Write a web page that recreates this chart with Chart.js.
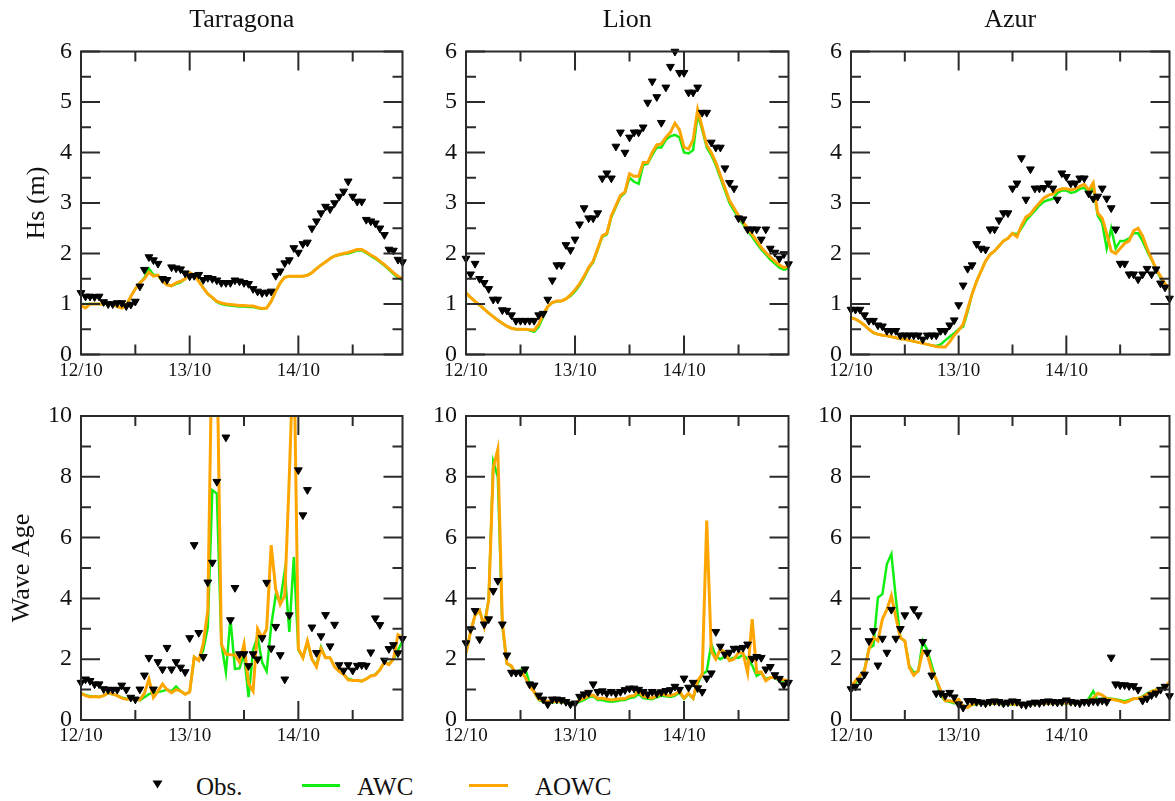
<!DOCTYPE html>
<html>
<head>
<meta charset="utf-8">
<script src="https://cdn.jsdelivr.net/npm/chart.js@4.4.1/dist/chart.umd.min.js"></script>
<style>
  body { margin: 0; background: #fff; }
  #page { position: relative; width: 1175px; height: 801px; overflow: hidden; background: #fff;
          font-family: "Liberation Serif", "DejaVu Serif", serif; color: #111; }
  #page canvas { position: absolute; }
  .lg { position: absolute; font-size: 25px; line-height: 25px; top: 774px; white-space: nowrap; }
  .lgline { position: absolute; height: 3px; top: 784px; }
</style>
</head>
<body>
<div id="page">
  <svg style="position:absolute;left:152px;top:780px" width="11" height="9">
    <polygon points="0.5,0.5 10.5,0.5 5.5,8.5" fill="#000"/>
  </svg>
  <span class="lg" style="left:196px">Obs.</span>
  <div class="lgline" style="left:302px;width:38px;background:#11ee11"></div>
  <span class="lg" style="left:357px">AWC</span>
  <div class="lgline" style="left:469px;width:39px;background:#ffa500"></div>
  <span class="lg" style="left:535px">AOWC</span>
</div>
<script>
// hourly samples, 12/10 00h .. 14/10 23h
const hours = Array.from({ length: 72 }, (_, i) => i);
const dayLabels = ['12/10', '13/10', '14/10'];
const hourTicks = [0, 12, 24, 36, 48, 60];

// significant wave height (m)
const tarragonaHsObs = [1.22,1.15,1.15,1.14,1.15,1.04,1.0,1.0,1.02,1.02, 0.96,0.99,1.05,1.35,1.68,1.93,1.87,1.8,1.5,1.48,
  1.73,1.71,1.69,1.61,1.55,1.56,1.58,1.48,1.52,1.5, 1.47,1.42,1.42,1.42,1.47,1.45,1.42,1.4,1.3,1.25,
  1.22,1.23,1.25,1.56,1.65,1.81,1.87,2.11,2.02,2.19, 2.22,2.5,2.64,2.8,2.93,2.88,3.0,3.13,3.23,3.43,
  3.13,3.03,3.03,2.67,2.64,2.6,2.5,2.37,2.08,2.06, 1.88,1.83];
const tarragonaHsAwc = [1.0,1.0,1.0,1.0,1.0,1.0,1.02,1.0,0.95,0.92, 0.97,1.15,1.3,1.42,1.52,1.7,1.58,1.57,1.45,1.38,
  1.36,1.4,1.43,1.5,1.6,1.58,1.46,1.32,1.2,1.12, 1.04,1.0,0.98,0.97,0.96,0.95,0.95,0.94,0.94,0.92,
  0.9,0.92,1.05,1.25,1.42,1.53,1.55,1.55,1.55,1.55, 1.57,1.62,1.7,1.77,1.83,1.9,1.95,1.97,1.99,2.0,
  2.03,2.06,2.06,2.01,1.95,1.9,1.83,1.76,1.68,1.6, 1.52,1.47];
const tarragonaHsAowc = [0.97,0.92,1.0,1.0,1.0,1.0,1.02,1.0,0.95,0.92, 0.97,1.15,1.3,1.42,1.5,1.63,1.55,1.57,1.45,1.38,
  1.36,1.42,1.45,1.5,1.62,1.57,1.45,1.32,1.2,1.13, 1.05,1.02,1.0,0.99,0.98,0.97,0.97,0.96,0.96,0.93,
  0.91,0.92,1.05,1.25,1.42,1.53,1.55,1.55,1.55,1.55, 1.57,1.62,1.7,1.77,1.83,1.9,1.95,1.98,2.0,2.02,
  2.05,2.08,2.08,2.03,1.97,1.92,1.85,1.78,1.7,1.62, 1.55,1.5];

const lionHsObs = [1.9,1.59,1.8,1.5,1.42,1.3,1.09,1.09,0.88,0.87, 0.78,0.67,0.67,0.67,0.67,0.67,0.78,0.81,1.09,1.47,
  1.77,1.77,2.17,2.07,2.28,2.58,2.9,2.7,2.7,2.8, 3.49,3.59,3.49,4.12,4.4,4.0,4.3,4.4,4.4,4.5,
  4.99,5.41,5.1,4.59,5.29,5.7,6.0,5.58,5.58,5.19, 5.19,5.29,4.79,4.79,4.2,4.1,4.1,3.69,3.4,3.29,
  2.7,2.68,2.48,2.48,2.48,2.28,2.48,2.1,2.02,1.9, 1.99,1.79];
const lionHsAwc = [1.22,1.13,1.05,0.98,0.9,0.82,0.75,0.68,0.62,0.56, 0.52,0.5,0.5,0.5,0.48,0.45,0.55,0.75,0.95,1.03,
  1.05,1.06,1.1,1.16,1.25,1.37,1.52,1.7,1.83,2.08, 2.33,2.38,2.72,2.92,3.12,3.2,3.5,3.42,3.38,3.75,
  3.78,3.95,4.1,4.1,4.25,4.32,4.35,4.3,4.0,3.98, 4.05,4.75,4.45,4.1,3.95,3.75,3.5,3.25,3.0,2.85,
  2.7,2.58,2.45,2.33,2.2,2.08,1.98,1.88,1.8,1.72, 1.68,1.7];
const lionHsAowc = [1.22,1.13,1.05,0.98,0.9,0.82,0.75,0.68,0.62,0.56, 0.52,0.5,0.5,0.5,0.49,0.48,0.6,0.8,0.95,1.03,
  1.06,1.06,1.1,1.18,1.28,1.4,1.55,1.72,1.85,2.1, 2.35,2.4,2.75,2.95,3.15,3.22,3.58,3.53,3.53,3.8,
  3.8,4.0,4.15,4.17,4.3,4.4,4.58,4.45,4.1,4.07, 4.25,4.85,4.5,4.15,4.0,3.8,3.55,3.3,3.05,2.9,
  2.75,2.62,2.5,2.38,2.25,2.12,2.02,1.93,1.85,1.77, 1.72,1.75];

const azurHsObs = [0.89,0.89,0.89,0.78,0.67,0.67,0.58,0.56,0.47,0.47, 0.47,0.38,0.38,0.38,0.38,0.38,0.3,0.38,0.38,0.38,
  0.47,0.47,0.58,0.68,0.98,1.37,1.7,1.77,2.19,2.1, 2.08,2.48,2.48,2.66,2.8,2.8,3.29,3.39,3.89,3.07,
  3.67,3.29,3.29,3.3,3.39,3.29,3.07,3.59,3.52,3.39, 3.39,3.49,3.49,3.19,3.09,3.13,3.29,3.09,2.9,2.48,
  1.8,1.8,1.59,1.59,1.49,1.59,1.7,1.59,1.69,1.41, 1.33,1.11];
const azurHsAwc = [0.73,0.7,0.65,0.58,0.5,0.43,0.4,0.38,0.37,0.35, 0.33,0.31,0.3,0.28,0.26,0.24,0.22,0.2,0.18,0.17,
  0.2,0.28,0.35,0.42,0.5,0.55,0.85,1.2,1.45,1.65, 1.85,1.98,2.05,2.15,2.25,2.3,2.4,2.38,2.5,2.65,
  2.75,2.85,2.95,3.03,3.06,3.08,3.2,3.25,3.25,3.2, 3.22,3.28,3.3,3.2,3.3,2.75,2.6,2.1,2.5,2.1,
  2.25,2.25,2.3,2.4,2.4,2.25,2.05,1.88,1.68,1.52, 1.4,1.3];
const azurHsAowc = [0.73,0.7,0.65,0.58,0.5,0.43,0.4,0.38,0.37,0.35, 0.33,0.31,0.3,0.28,0.26,0.24,0.22,0.2,0.18,0.16,
  0.15,0.15,0.25,0.38,0.48,0.6,0.9,1.2,1.45,1.65, 1.85,1.98,2.05,2.15,2.25,2.3,2.4,2.33,2.55,2.72,
  2.78,2.9,3.0,3.1,3.15,3.18,3.25,3.28,3.28,3.26, 3.28,3.33,3.37,3.25,3.4,2.8,2.7,2.4,2.05,2.0,
  2.1,2.2,2.25,2.45,2.5,2.35,2.1,1.9,1.7,1.55, 1.4,1.3];

// wave age (null = observation off the axis)
const tarragonaWaObs = [1.23,1.34,1.29,1.18,1.18,1.02,1.0,1.0,1.0,1.14, 1.0,0.74,0.68,1.01,1.47,2.05,1.01,1.91,1.67,2.38,
  1.67,1.91,1.73,1.58,2.7,5.76,2.87,2.08,4.53,5.18, 7.84,null,9.3,3.29,4.35,2.17,2.17,1.78,2.17,2.0,
  2.7,4.52,2.36,3.07,2.14,1.34,3.45,null,8.22,6.74, 7.57,3.05,2.21,2.76,3.46,2.43,3.14,1.81,1.63,1.81,
  1.63,1.79,1.81,1.79,2.23,3.35,3.13,1.96,2.34,2.47, 2.2,2.67];
const tarragonaWaAwc = [0.88,0.82,0.78,0.78,0.76,0.8,0.88,0.85,0.8,0.74, 0.7,0.7,0.72,0.65,0.75,0.85,0.9,0.92,0.95,1.0,
  0.95,1.1,0.95,0.85,0.92,2.07,1.96,2.3,3.05,7.56, 7.45,2.5,1.57,3.33,1.68,1.7,2.17,0.75,2.3,2.75,
  1.9,1.6,3.1,4.1,3.9,4.9,2.9,5.36,2.3,2.05, 2.55,2.0,1.8,2.4,2.05,2.05,1.75,1.6,1.5,1.35,
  1.32,1.3,1.28,1.35,1.45,1.5,1.65,1.9,1.85,2.0, 2.3,2.6];
const tarragonaWaAowc = [0.88,0.8,0.76,0.77,0.76,0.8,0.9,0.85,0.8,0.72, 0.68,0.7,0.68,0.66,0.88,1.34,0.74,0.95,1.18,1.0,
  0.9,1.0,0.95,0.85,0.92,2.07,1.96,2.5,3.6,13, 12.5,2.5,2.17,2.15,2.14,1.9,2.5,1.2,0.95,3.0,
  2.7,3.0,5.75,4.3,3.8,4.1,8,12.5,2.35,2.05, 2.6,2.0,1.75,2.35,2.05,2.05,1.75,1.6,1.5,1.32,
  1.3,1.3,1.28,1.35,1.45,1.48,1.65,1.9,1.82,2.0, 2.8,2.7];

const lionWaObs = [2.53,2.99,3.59,2.66,3.15,3.32,4.25,4.58,3.15,2.13, 1.56,1.56,1.56,1.67,1.18,1.14,0.81,0.68,0.52,0.68,
  0.68,0.66,0.6,0.52,0.55,0.77,0.85,0.9,1.18,0.93, 0.95,0.88,0.93,0.88,0.93,0.99,1.04,1.04,1.0,0.93,
  0.85,0.93,0.88,0.92,0.96,0.99,1.1,1.0,1.37,1.07, 1.23,1.05,0.93,1.37,1.54,2.9,2.42,2.16,2.22,2.35,
  2.35,2.38,2.49,2.02,2.08,2.05,1.67,1.75,1.48,1.36, 1.15,1.23];
const lionWaAwc = [2.2,2.9,3.45,3.6,3.1,4.0,8.5,8.0,3.1,1.86, 1.75,1.5,1.65,1.72,1.2,0.93,0.66,0.6,0.6,0.58,
  0.6,0.58,0.57,0.55,0.53,0.6,0.66,0.75,0.78,0.66, 0.66,0.62,0.6,0.62,0.65,0.66,0.72,0.75,0.85,0.72,
  0.7,0.68,0.75,0.8,0.78,0.76,0.8,0.9,0.7,0.85, 0.7,1.2,1.5,1.6,2.5,2.1,2.0,2.1,2.0,2.05,
  2.05,2.15,2.0,1.8,1.45,1.55,1.35,1.4,1.38,1.3, 1.28,1.25];
const lionWaAowc = [2.2,2.9,3.45,3.6,3.07,3.95,8.3,8.9,3.2,1.86, 1.78,1.5,1.6,1.42,1.1,0.93,0.68,0.63,0.62,0.6,
  0.62,0.6,0.59,0.57,0.55,0.65,0.72,0.8,0.82,0.7, 0.72,0.68,0.66,0.68,0.7,0.7,0.78,0.8,0.95,0.78,
  0.75,0.72,0.8,0.86,0.82,0.8,0.85,0.95,0.72,0.88, 0.72,1.3,1.5,6.56,2.27,2.0,2.33,2.22,1.95,2.0,
  2.22,2.2,1.56,3.32,1.56,1.58,1.29,1.4,1.4,1.34, 1.32,1.29];

const azurWaObs = [1.02,1.1,1.3,1.5,2.6,2.93,1.8,2.68,2.22,3.63, 2.68,3.0,3.45,null,3.65,3.45,2.57,2.22,1.47,0.88,
  0.88,0.8,0.9,0.75,0.52,0.41,0.63,0.63,0.6,0.58, 0.55,0.6,0.62,0.6,0.55,0.58,0.62,0.6,0.52,0.5,
  0.55,0.58,0.56,0.6,0.62,0.6,0.58,0.6,0.65,0.6, 0.58,0.55,0.6,0.58,0.62,0.6,0.64,0.6,2.06,1.18,
  1.15,1.15,1.12,1.12,1.0,0.64,0.71,0.82,0.88,1.0, 1.1,0.79];
const azurWaAwc = [1.0,1.2,1.45,1.65,2.35,2.45,4.03,4.14,5.13,5.46, 4.0,2.7,2.6,1.78,1.56,1.6,2.6,2.3,1.8,1.3,
  0.8,0.63,0.6,0.55,0.65,0.45,0.42,0.5,0.52,0.55, 0.53,0.53,0.54,0.53,0.52,0.52,0.51,0.5,0.5,0.51,
  0.52,0.53,0.53,0.54,0.54,0.55,0.55,0.54,0.55,0.55, 0.56,0.57,0.6,0.7,0.95,0.65,0.7,0.72,0.7,0.68,
  0.65,0.62,0.66,0.7,0.72,0.78,0.88,0.95,1.0,1.05, 1.1,1.2];
const azurWaAowc = [1.1,1.29,1.45,1.62,2.33,2.71,2.6,3.32,3.63,4.09, 3.37,2.71,2.6,1.73,1.47,1.62,2.27,2.16,1.62,1.34,
  0.96,0.63,0.63,0.59,0.68,0.46,0.41,0.52,0.55,0.57, 0.55,0.55,0.56,0.55,0.54,0.54,0.53,0.52,0.52,0.53,
  0.53,0.54,0.55,0.55,0.55,0.56,0.56,0.55,0.56,0.56, 0.57,0.58,0.6,0.65,0.72,0.88,0.82,0.7,0.68,0.66,
  0.62,0.57,0.62,0.71,0.71,0.75,0.85,0.93,0.99,1.02, 1.04,1.26];

const SERIF = '"Liberation Serif", "DejaVu Serif", serif';
const INK = '#111';
const FRAME = '#2b2b2b';
const GREEN = '#11ee11';
const ORANGE = '#ffa500';

// box = canvas [x, y, w, h]; area = plot frame [left, top, right, bottom] in page pixels
const panels = [
  { box: [0, 0, 416, 390], area: [81, 51.5, 402.5, 354.5], yWidth: 81, title: 'Tarragona',
    yTitle: 'Hs (m)', yTitleX: 37, yMax: 6, yStep: 1, obs: tarragonaHsObs, awc: tarragonaHsAwc, aowc: tarragonaHsAowc },
  { box: [416, 0, 385, 390], area: [466, 51.5, 788.5, 354.5], yWidth: 50, title: 'Lion',
    yMax: 6, yStep: 1, obs: lionHsObs, awc: lionHsAwc, aowc: lionHsAowc },
  { box: [801, 0, 374, 390], area: [851, 51.5, 1172.5, 354.5], yWidth: 50, title: 'Azur',
    yMax: 6, yStep: 1, obs: azurHsObs, awc: azurHsAwc, aowc: azurHsAowc },
  { box: [0, 390, 416, 360], area: [81, 416, 402.5, 720], yWidth: 81,
    yTitle: 'Wave Age', yTitleX: 22, yMax: 10, yStep: 2, obs: tarragonaWaObs, awc: tarragonaWaAwc, aowc: tarragonaWaAowc },
  { box: [416, 390, 385, 360], area: [466, 416, 788.5, 720], yWidth: 50,
    yMax: 10, yStep: 2, obs: lionWaObs, awc: lionWaAwc, aowc: lionWaAowc },
  { box: [801, 390, 374, 360], area: [851, 416, 1172.5, 720], yWidth: 50,
    yMax: 10, yStep: 2, obs: azurWaObs, awc: azurWaAwc, aowc: azurWaAowc },
];

// closed frame with inward ticks on all four sides (long = labelled, short = minor)
const frameTicks = {
  id: 'frameTicks',
  afterDatasetsDraw(chart, _args, opts) {
    const { ctx, chartArea: a, scales: { x, y } } = chart;
    const seg = (x1, y1, x2, y2) => { ctx.moveTo(x1, y1); ctx.lineTo(x2, y2); };
    ctx.save();
    ctx.strokeStyle = FRAME;
    ctx.lineWidth = 2;
    ctx.beginPath();
    x.ticks.forEach(t => {
      const px = x.getPixelForValue(t.value);
      const len = t.value % 24 === 0 ? 19 : 10;
      seg(px, a.top, px, a.top + len);
      seg(px, a.bottom, px, a.bottom - len);
    });
    y.ticks.forEach(t => {
      const py = y.getPixelForValue(t.value);
      seg(a.left, py, a.left + 19, py);
      seg(a.right, py, a.right - 19, py);
      const half = t.value + opts.step / 2;
      if (half < y.max) {
        const pm = y.getPixelForValue(half);
        seg(a.left, pm, a.left + 10, pm);
        seg(a.right, pm, a.right - 10, pm);
      }
    });
    ctx.stroke();
    ctx.strokeRect(a.left, a.top, a.right - a.left, a.bottom - a.top);
    ctx.restore();
  }
};

const page = document.getElementById('page');
const xHeight = 30;
const titleSize = 26;
const titleGap = 16;

panels.forEach(p => {
  const [cx, cy, cw, ch] = p.box;
  const [L, T, R, B] = p.area;
  const canvas = document.createElement('canvas');
  canvas.width = cw;
  canvas.height = ch;
  canvas.style.left = cx + 'px';
  canvas.style.top = cy + 'px';
  page.appendChild(canvas);

  const titleH = p.title ? titleSize * 1.2 + titleGap : 0;
  const padLeft = L - cx - p.yWidth;

  new Chart(canvas, {
    type: 'line',
    data: {
      labels: hours,
      datasets: [
        {
          label: 'Obs.', data: p.obs, showLine: false,
          pointStyle: 'triangle', rotation: 180, pointRadius: 4.5,
          pointBackgroundColor: '#000', pointBorderColor: '#000', pointBorderWidth: 1,
          clip: false,
        },
        { label: 'AOWC', data: p.aowc, borderColor: ORANGE, borderWidth: 3, pointRadius: 0 },
        { label: 'AWC', data: p.awc, borderColor: GREEN, borderWidth: 2.5, pointRadius: 0 },
      ],
    },
    options: {
      responsive: false,
      animation: false,
      devicePixelRatio: 1,
      events: [],
      layout: {
        padding: { left: padLeft, right: cx + cw - R, top: T - cy - titleH, bottom: cy + ch - B - xHeight },
      },
      scales: {
        x: {
          type: 'linear', min: 0, max: 71,
          grid: { display: false, drawTicks: false },
          border: { display: false },
          afterBuildTicks: s => { s.ticks = hourTicks.map(v => ({ value: v })); },
          afterFit: s => { s.height = xHeight; },
          ticks: {
            autoSkip: false, maxRotation: 0, padding: 4.8, color: INK,
            font: { family: SERIF, size: 19 },
            callback: v => (v % 24 === 0 ? dayLabels[v / 24] : ''),
          },
        },
        y: {
          min: 0, max: p.yMax,
          grid: { display: false, drawTicks: false },
          border: { display: false },
          afterFit: s => { s.width = p.yWidth; },
          ticks: { stepSize: p.yStep, padding: 9, color: INK, font: { family: SERIF, size: 24 } },
          title: {
            display: !!p.yTitle, text: p.yTitle || '', color: INK,
            font: { family: SERIF, size: 26 },
            padding: { top: p.yTitle ? p.yTitleX - padLeft - 15.6 : 0, bottom: 0 },
          },
        },
      },
      plugins: {
        legend: { display: false },
        tooltip: { enabled: false },
        title: {
          display: !!p.title, text: p.title || '', fullSize: false, color: INK,
          font: { family: SERIF, size: titleSize, weight: 'normal' },
          padding: { top: 0, bottom: titleGap },
        },
        frameTicks: { step: p.yStep },
      },
    },
    plugins: [frameTicks],
  });
});
</script>
</body>
</html>
